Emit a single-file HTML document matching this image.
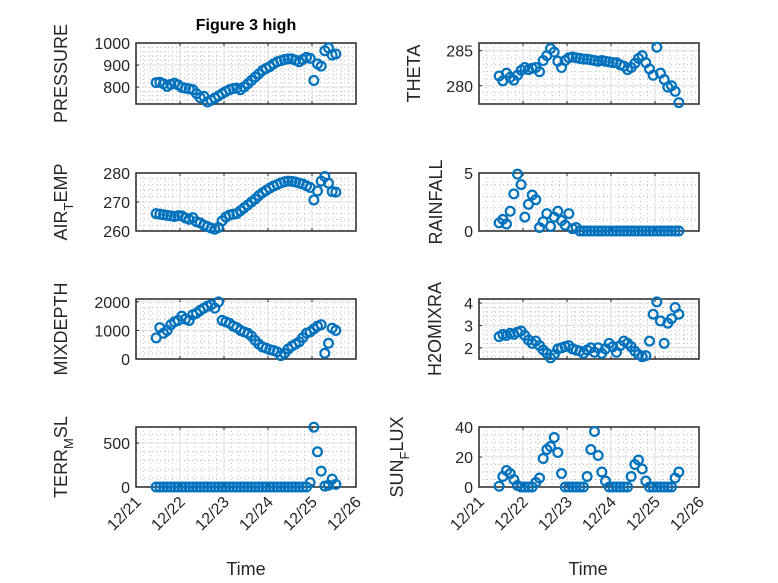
<!DOCTYPE html>
<html><head><meta charset="utf-8"><style>
body{margin:0;background:#fff;}
svg{display:block;font-family:"Liberation Sans",sans-serif;}
</style></head><body>
<svg id="fig" width="778" height="583" viewBox="0 0 778 583">
<rect width="778" height="583" fill="#fff"/>
<text x="246" y="30" text-anchor="middle" font-weight="bold" font-size="16" fill="#000">Figure 3 high</text>
<text x="246" y="575" text-anchor="middle" font-size="18" fill="#262626">Time</text>
<text x="588" y="575" text-anchor="middle" font-size="18" fill="#262626">Time</text>
</svg>
<script>
const hours = [11,13,15,17,19,21,23,25,27,29,31,33,35,37,39,41,43,45,47,49,51,53,55,57,59,61,63,65,67,69,71,73,75,77,79,81,83,85,87,89,91,93,95,97,99,101,103,105,107,109];
const xTickLabels = ["12/21","12/22","12/23","12/24","12/25","12/26"];
const pressure = [820,822,815,803,812,818,810,798,795,792,788,770,752,758,732,740,750,760,770,780,788,793,795,788,800,815,830,845,860,875,885,893,905,915,920,925,928,928,922,915,925,935,930,830,905,895,965,978,945,950];
const theta = [281.4,280.7,281.8,281.2,280.8,281.5,282.2,282.6,282.3,282.5,282.6,282.0,283.6,284.3,285.3,284.8,283.5,282.6,283.6,284.0,284.1,284.0,283.9,283.8,283.8,283.7,283.6,283.5,283.6,283.5,283.4,283.3,283.3,283.0,282.8,282.3,282.6,283.2,283.9,284.3,283.3,282.4,281.5,285.5,281.8,280.9,279.8,280.0,279.2,277.6];
const airTemp = [266.0,265.8,265.6,265.4,265.2,265.0,265.3,265.2,264.5,264.0,264.6,263.2,262.8,262.0,261.5,261.0,260.6,261.2,263.5,264.8,265.5,265.8,266.0,267.0,268.0,269.0,270.0,271.0,272.2,273.2,274.0,274.8,275.5,276.0,276.6,277.0,277.2,277.1,276.9,276.5,276.2,275.6,275.0,270.7,273.8,277.2,278.8,276.5,273.6,273.4];
const rainfall = [0.7,1.0,0.6,1.7,3.2,4.9,4.0,1.2,2.3,3.1,2.7,0.3,0.8,1.5,0.4,1.2,1.7,0.9,0.5,1.5,0.2,0.3,0,0,0,0,0,0,0,0,0,0,0,0,0,0,0,0,0,0,0,0,0,0,0,0,0,0,0,0];
const mixDepth = [740,1100,900,1000,1200,1300,1350,1500,1400,1350,1550,1600,1700,1780,1850,1900,1780,2000,1350,1300,1250,1150,1100,1000,950,900,800,650,520,420,380,330,300,250,120,200,350,450,520,600,750,900,950,1050,1150,1200,200,550,1080,1000];
const h2oMixRatio = [2.5,2.6,2.55,2.65,2.6,2.7,2.75,2.55,2.35,2.2,2.3,2.1,1.9,1.75,1.55,1.7,1.95,2.0,2.05,2.1,1.95,1.9,1.85,1.75,1.9,2.0,1.8,2.0,1.75,1.95,2.2,2.05,1.8,2.1,2.3,2.2,2.05,1.85,1.7,1.6,1.65,2.3,3.5,4.05,3.2,2.2,3.1,3.3,3.8,3.5];
const terrMsl = [0,0,0,0,0,0,0,0,0,0,0,0,0,0,0,0,0,0,0,0,0,0,0,0,0,0,0,0,0,0,0,0,0,0,0,0,0,0,0,0,0,0,50,680,400,180,10,20,90,30];
const sunFlux = [0.5,7,11,9,5,1,0,0,0,0,3,6,19,25,27,33,23,9,0,0,0,0,0,0,7,25,37,21,10,4,0,0,0,0,0,0,7,15,18,12,4,0,0,0,0,0,0,0,6,10];

const NS="http://www.w3.org/2000/svg";
const svg=document.getElementById('fig');
function mk(tag,attrs,parent){const e=document.createElementNS(NS,tag);for(const k in attrs)e.setAttribute(k,attrs[k]);(parent||svg).appendChild(e);return e;}

const panels=[
 {name:'pressure',data:pressure,x0:136,x1:356,y0:43,y1:104,min:723,max:1000,ticks:[800,900,1000],minor:20,label:['PRESSURE'],lx:67},
 {name:'theta',data:theta,x0:479,x1:699,y0:43,y1:104,min:277.4,max:286.1,ticks:[280,285],minor:1,label:['THETA'],lx:420},
 {name:'air-temp',data:airTemp,x0:136,x1:356,y0:173,y1:231,min:260,max:280,ticks:[260,270,280],minor:2,label:['AIR','T','EMP'],lx:67},
 {name:'rainfall',data:rainfall,x0:479,x1:699,y0:173,y1:231,min:0,max:5,ticks:[0,5],minor:1,label:['RAINFALL'],lx:442},
 {name:'mixdepth',data:mixDepth,x0:136,x1:356,y0:299,y1:359,min:0,max:2100,ticks:[0,1000,2000],minor:200,label:['MIXDEPTH'],lx:67},
 {name:'h2omixra',data:h2oMixRatio,x0:479,x1:699,y0:299,y1:359,min:1.5,max:4.18,ticks:[2,3,4],minor:0.2,label:['H2OMIXRA'],lx:441},
 {name:'terr-msl',data:terrMsl,x0:136,x1:356,y0:427,y1:487,min:0,max:682,ticks:[0,500],minor:100,label:['TERR','M','SL'],lx:67,xlabels:true},
 {name:'sun-flux',data:sunFlux,x0:479,x1:699,y0:427,y1:487,min:0,max:40,ticks:[0,20,40],minor:5,label:['SUN','F','LUX'],lx:403,xlabels:true}
];

panels.forEach(p=>{
  const g=mk('g',{});
  
  
  const xs=h=>p.x0+(p.x1-p.x0)*h/120;
  const ys=v=>p.y1-(p.y1-p.y0)*(v-p.min)/(p.max-p.min);
  for(let h=4;h<120;h+=4){ if(h%24===0)continue;
    const l=mk('line',{x1:xs(h),x2:xs(h),y1:p.y0,y2:p.y1,stroke:'#bdbdbd','stroke-width':1,'stroke-dasharray':'1 3'},g);
    
    
  }
  const start=Math.ceil(p.min/p.minor)*p.minor;
  for(let v=start;v<=p.max+1e-9;v+=p.minor){
    const vv=Math.round(v*1000)/1000;
    if(p.ticks.some(t=>Math.abs(t-vv)<1e-6))continue;
    const l=mk('line',{x1:p.x0,x2:p.x1,y1:ys(vv),y2:ys(vv),stroke:'#bdbdbd','stroke-width':1,'stroke-dasharray':'1 3'},g);
    
    
  }
  for(let d=1;d<5;d++){
    const l=mk('line',{x1:xs(d*24),x2:xs(d*24),y1:p.y0,y2:p.y1,stroke:'#dcdcdc','stroke-width':1},g);
    
    
  }
  p.ticks.forEach(t=>{
    const y=ys(t);
    const l=mk('line',{x1:p.x0,x2:p.x1,y1:y,y2:y,stroke:'#dcdcdc','stroke-width':1},g);
    
    
    const tk=mk('line',{x1:p.x0,x2:p.x0+3,y1:y,y2:y,stroke:'#262626','stroke-width':1},g);
    
    
    const tx=mk('text',{x:p.x0-6,y:y+6,'text-anchor':'end','font-size':16,fill:'#262626'},g);
    tx.textContent=String(t);
    
    
  });
  xTickLabels.forEach((lab,i)=>{
    const x=xs(i*24);
    const tk=mk('line',{x1:x,x2:x,y1:p.y1,y2:p.y1-3,stroke:'#262626','stroke-width':1},g);
    
    
    const tk2=mk('line',{x1:x,x2:x,y1:p.y0,y2:p.y0+3,stroke:'#262626','stroke-width':1},g);
    
    
    if(p.xlabels){
      const ax=x+6, ay=p.y1+16;
      const tx=mk('text',{x:ax,y:ay,'text-anchor':'end','font-size':16,fill:'#262626',transform:`rotate(-45 ${ax} ${ay})`},g);
      tx.textContent=lab;
      
      
    }
  });
  const box=mk('rect',{x:p.x0,y:p.y0,width:p.x1-p.x0,height:p.y1-p.y0,fill:'none',stroke:'#262626','stroke-width':1.5},g);
  
  
  const cy=(p.y0+p.y1)/2;
  const yl=mk('text',{x:p.lx,y:cy,'text-anchor':'middle','font-size':18,fill:'#262626',transform:`rotate(-90 ${p.lx} ${cy})`},g);
  
  
  if(p.label.length===1){yl.textContent=p.label[0];}
  else{
    const a=mk('tspan',{},yl);a.textContent=p.label[0];
    const b=mk('tspan',{dy:6,'font-size':13},yl);b.textContent=p.label[1];
    const c=mk('tspan',{dy:-6},yl);c.textContent=p.label[2];
  }
  p.data.forEach((v,i)=>{
    const c=mk('circle',{cx:xs(hours[i]),cy:ys(v),r:4.4,fill:'none',stroke:'#0072BD','stroke-width':2.2},g);
    
    
  });
});
</script>
</body></html>
